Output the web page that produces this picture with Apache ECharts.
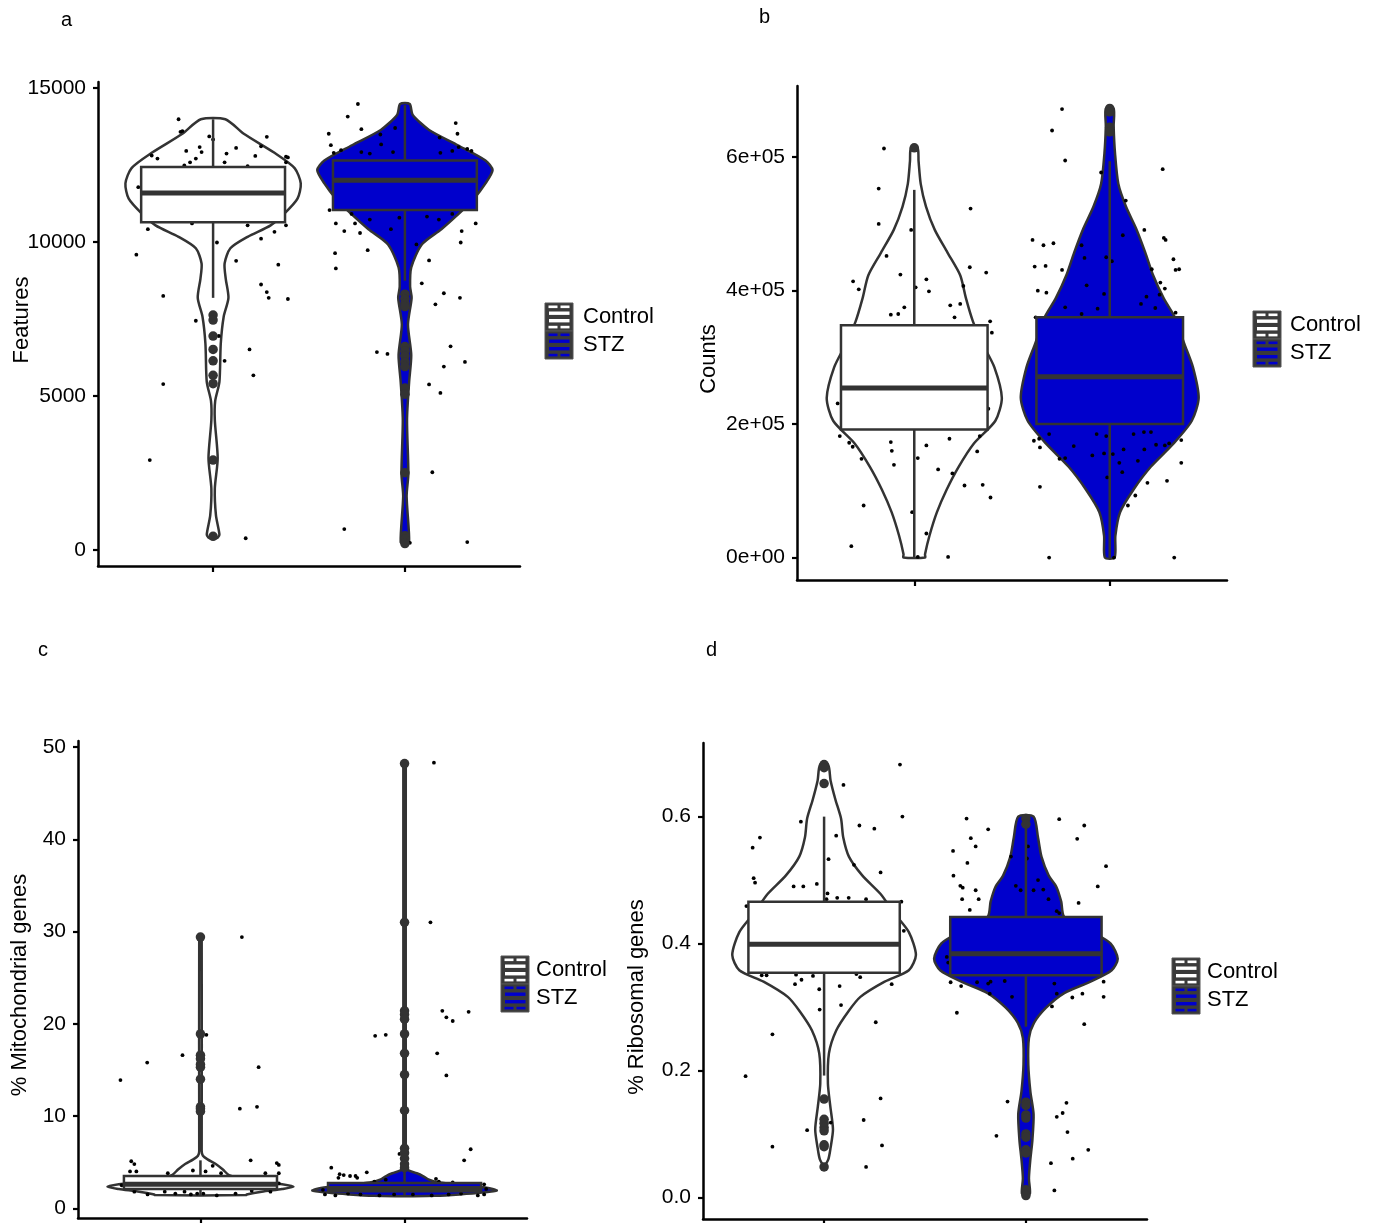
<!DOCTYPE html>
<html><head><meta charset="utf-8">
<script src="https://cdn.jsdelivr.net/npm/echarts@6/dist/echarts.min.js"></script>
<style>html,body{margin:0;padding:0;background:#fff}#c{width:1377px;height:1223px}</style>
</head><body><div id="c"></div>
<script>
const GROUPS = ['Control', 'STZ'];

// ---------- Panel a : Features ----------
const A_TICKS = [0, 5000, 10000, 15000];
const A_TICK_LABELS = ['0', '5000', '10000', '15000'];
const A_CTRL_VIOLIN = [[13983,0.064],[13512,0.16],[12893,0.32],[12397,0.425],[11901,0.457],[11405,0.44],[10909,0.37],[10537,0.30],[10165,0.18],[9793,0.09],[9298,0.06],[8802,0.066],[8182,0.08],[7562,0.055],[6694,0.04],[5455,0.033],[4835,0.011],[4215,0.009],[2975,0.024],[1983,0.009],[1116,0.015],[496,0.033],[400,0.025],[347,0]];
const A_STZ_VIOLIN = [[14479,0.025],[14132,0.04],[13636,0.126],[13140,0.276],[12645,0.42],[12335,0.457],[11901,0.42],[11405,0.36],[10909,0.28],[10413,0.19],[9917,0.088],[9174,0.033],[8554,0.027],[8182,0.035],[7314,0.016],[6322,0.033],[5455,0.022],[4215,0.011],[2479,0.018],[1736,0.009],[248,0.022],[186,0]];
const A_CTRL_BOX = [8182, 10636, 11591, 12434, 13983];
const A_STZ_BOX = [8740, 11033, 12000, 12645, 14442];
const A_CTRL_OUT = [7624, 7459, 6942, 6508, 6136, 5665, 5393, 2913, 434];
const A_STZ_OUT = [8300, 8150, 8000, 7900, 6600, 6450, 6300, 6100, 5950, 5250, 5050, 2500, 450, 350, 200];
const A_CTRL_JITTER = [[-0.18,13984],[-0.17,13575],[-0.16,13600],[-0.02,13426],[0.00,13327],[0.28,13414],[-0.07,13079],[-0.14,12955],[-0.06,12918],[0.12,13054],[0.25,13104],[-0.32,12806],[-0.29,12707],[-0.09,12707],[0.07,12868],[0.22,12794],[0.38,12769],[0.39,12744],[-0.12,12583],[-0.15,12484],[0.06,12583],[0.18,12459],[0.38,12583],[-0.39,11777],[-0.34,10413],[-0.11,10600],[0.18,10537],[0.38,10537],[0.02,9980],[0.25,10104],[0.32,10327],[0.12,9385],[-0.40,9583],[0.34,9261],[-0.26,8244],[0.25,8616],[0.28,8368],[0.29,8182],[0.39,8145],[-0.09,7438],[0.03,6942],[0.19,6508],[0.06,6136],[0.21,5665],[-0.26,5380],[-0.33,2913],[0.17,372]];
const A_STZ_JITTER = [[-0.245,14479],[-0.298,14070],[-0.397,13513],[-0.227,13661],[-0.128,13488],[-0.051,13699],[0.265,13860],[0.274,13513],[-0.386,13141],[-0.124,13166],[0.181,13389],[0.280,13079],[0.325,13017],[-0.371,12893],[-0.333,12980],[-0.227,12918],[-0.183,12868],[-0.062,12918],[0.185,12893],[0.247,12955],[0.347,12955],[-0.393,11033],[-0.360,10600],[-0.278,10909],[-0.260,10600],[-0.183,10724],[-0.073,10413],[-0.029,10786],[0.115,10823],[0.177,10724],[0.247,10909],[0.369,10600],[0.296,10351],[-0.316,10351],[-0.234,10289],[0.060,9918],[0.291,9980],[-0.194,9732],[-0.364,9633],[0.126,9397],[-0.360,9137],[0.088,8653],[0.203,8331],[0.287,8182],[0.159,7971],[0.238,6608],[-0.146,6422],[-0.091,6360],[0.203,5951],[0.313,6099],[0.126,5368],[0.185,5095],[0.143,2517],[-0.316,669],[0.325,248],[0.026,223]];

// ---------- Panel b : Counts ----------
const B_TICKS = [0, 200000, 400000, 600000];
const B_TICK_LABELS = ['0e+00', '2e+05', '4e+05', '6e+05'];
const B_CTRL_VIOLIN = [[614000,0.017],[594000,0.022],[560000,0.033],[526000,0.06],[491000,0.105],[457000,0.17],[423000,0.235],[388000,0.265],[354000,0.30],[320000,0.35],[285000,0.41],[239000,0.448],[205000,0.415],[171000,0.305],[136000,0.227],[102000,0.166],[68000,0.116],[33000,0.078],[5000,0.055],[0,0.055]];
const B_STZ_VIOLIN = [[673000,0.02],[646000,0.02],[606000,0.027],[560000,0.044],[526000,0.083],[491000,0.138],[457000,0.182],[423000,0.222],[388000,0.277],[360000,0.333],[320000,0.382],[285000,0.426],[239000,0.455],[205000,0.42],[171000,0.327],[136000,0.21],[102000,0.122],[68000,0.053],[33000,0.029],[0,0.025]];
const B_CTRL_BOX = [0, 192000, 254000, 348000, 551000];
const B_STZ_BOX = [0, 200000, 271000, 360000, 594000];
const B_CTRL_OUT = [614000];
const B_STZ_OUT = [673000, 668000, 645000, 638000];
const B_CTRL_JITTER = [[-0.155,613000],[-0.182,553000],[-0.182,500000],[0.288,523000],[-0.016,491000],[-0.142,452000],[0.284,435000],[0.368,427000],[-0.071,424000],[-0.313,414000],[0.062,417000],[-0.284,402000],[0.007,405000],[0.075,399000],[0.251,407000],[-0.051,375000],[0.184,378000],[0.235,380000],[-0.120,364000],[-0.082,365000],[0.206,360000],[0.388,354000],[0.397,337000],[-0.392,231000],[0.379,223000],[-0.381,182000],[-0.333,172000],[-0.315,166000],[-0.120,173000],[-0.115,160000],[0.062,168000],[0.180,178000],[0.335,182000],[0.322,159000],[-0.270,148000],[0.018,149000],[-0.104,139000],[0.122,132000],[0.195,126000],[0.257,108000],[0.350,109000],[0.390,90000],[-0.259,78000],[-0.011,68000],[0.062,36000],[-0.322,17000],[0.018,1000],[0.173,1000]];
const B_STZ_JITTER = [[-0.244,672000],[-0.295,640000],[-0.228,595000],[-0.044,577000],[0.271,582000],[0.082,535000],[0.067,483000],[0.177,491000],[-0.395,476000],[-0.339,468000],[-0.288,471000],[0.277,479000],[0.286,476000],[-0.144,468000],[-0.129,449000],[-0.018,450000],[0.011,444000],[-0.384,436000],[-0.328,437000],[-0.244,431000],[0.215,432000],[0.326,447000],[0.337,431000],[0.355,432000],[-0.118,408000],[-0.368,400000],[-0.324,397000],[-0.029,395000],[0.259,412000],[0.282,403000],[0.255,394000],[0.188,391000],[0.160,380000],[0.233,374000],[-0.228,375000],[-0.062,373000],[-0.144,365000],[-0.379,360000],[0.337,367000],[-0.310,185000],[-0.361,178000],[-0.388,175000],[-0.357,165000],[-0.067,185000],[-0.018,182000],[0.122,185000],[0.175,188000],[0.211,188000],[0.304,171000],[0.282,168000],[0.366,176000],[0.237,169000],[-0.184,167000],[-0.257,148000],[-0.228,149000],[-0.089,153000],[-0.029,156000],[0.071,162000],[0.177,162000],[0.016,155000],[0.049,142000],[0.144,145000],[0.366,142000],[0.064,128000],[-0.013,120000],[-0.357,106000],[0.193,112000],[0.293,115000],[0.131,93000],[0.093,78000],[-0.310,0],[0.022,0],[0.330,0]];

// ---------- Panel c : % Mitochondrial genes ----------
const C_TICKS = [0, 10, 20, 30, 40, 50];
const C_TICK_LABELS = ['0', '10', '20', '30', '40', '50'];
const C_CTRL_VIOLIN = [[29.4,0.006],[6.2,0.006],[5.7,0.012],[5.3,0.035],[4.8,0.075],[4.2,0.11],[3.6,0.14],[3.0,0.25],[2.6,0.40],[2.33,0.456],[2.1,0.40],[1.8,0.30],[1.5,0.226],[1.45,0.226],[1.4,0]];
const C_STZ_VIOLIN = [[48.2,0.006],[4.4,0.006],[4.1,0.02],[3.8,0.06],[3.5,0.09],[3.1,0.12],[2.8,0.17],[2.5,0.30],[2.2,0.41],[1.92,0.452],[1.7,0.38],[1.5,0.27],[1.35,0.15],[1.3,0]];
const C_CTRL_BOX = [1.4, 2.1, 2.6, 3.5, 5.2];
const C_STZ_BOX = [1.3, 1.85, 2.15, 2.75, 4.3];
const C_CTRL_OUT = [29.4, 18.9, 16.6, 16.2, 15.6, 15.3, 14.0, 11.0, 10.8, 10.5];
const C_STZ_OUT = [48.2, 31.0, 21.4, 21.0, 20.5, 18.9, 16.8, 14.5, 10.6, 6.5, 6.0, 5.4, 4.8, 4.4];
const C_CTRL_JITTER = [[-0.392,13.9],[-0.261,15.8],[-0.088,16.6],[0.029,18.8],[0.203,29.4],[0.285,15.3],[0.193,10.8],[0.277,11.0],[0.246,5.2],[-0.339,5.1],[-0.324,4.8],[0.374,4.9],[0.384,4.7],[-0.345,4.0],[-0.314,4.0],[-0.160,3.8],[-0.037,4.1],[0.025,4.0],[0.060,4.6],[0.101,3.8],[0.318,3.8],[0.384,3.8],[-0.386,2.5],[-0.324,1.8],[-0.259,1.5],[-0.175,1.8],[-0.123,1.6],[-0.078,1.8],[-0.047,1.5],[-0.016,1.6],[0.014,1.6],[0.080,1.4],[0.172,1.6],[0.251,1.9],[0.343,1.8],[0.384,2.7]];
const C_STZ_JITTER = [[0.144,48.3],[0.127,31.0],[-0.144,18.7],[-0.092,18.8],[0.185,21.4],[0.205,20.7],[0.236,20.3],[0.314,21.3],[0.160,16.8],[0.205,14.4],[0.324,6.4],[0.292,5.2],[-0.025,5.9],[-0.359,4.4],[-0.185,3.9],[-0.318,3.7],[-0.298,3.6],[-0.267,3.5],[-0.240,3.5],[-0.232,3.3],[-0.324,3.3],[-0.148,2.9],[-0.092,3.1],[0.154,3.2],[0.168,2.9],[0.236,2.8],[0.390,2.6],[0.400,2.1],[-0.400,2.0],[-0.390,1.5],[-0.339,1.4],[-0.277,1.6],[-0.216,1.5],[-0.123,1.4],[-0.051,1.5],[0.041,1.5],[0.133,1.4],[0.216,1.5],[0.277,1.6],[0.359,1.4],[0.390,1.5]];

// ---------- Panel d : % Ribosomal genes ----------
const D_TICKS = [0, 0.2, 0.4, 0.6];
const D_TICK_LABELS = ['0.0', '0.2', '0.4', '0.6'];
const D_CTRL_VIOLIN = [[0.682,0.02],[0.657,0.032],[0.627,0.056],[0.597,0.084],[0.567,0.095],[0.537,0.123],[0.507,0.19],[0.478,0.28],[0.448,0.347],[0.418,0.42],[0.382,0.455],[0.358,0.42],[0.340,0.30],[0.316,0.18],[0.293,0.12],[0.263,0.06],[0.227,0.024],[0.179,0.019],[0.143,0.031],[0.107,0.044],[0.078,0.032],[0.060,0.021],[0.048,0]];
const D_STZ_VIOLIN = [[0.600,0.038],[0.567,0.06],[0.537,0.077],[0.507,0.113],[0.490,0.15],[0.466,0.175],[0.442,0.19],[0.418,0.33],[0.400,0.42],[0.376,0.455],[0.358,0.425],[0.340,0.32],[0.322,0.19],[0.299,0.10],[0.275,0.04],[0.251,0.015],[0.209,0.012],[0.167,0.022],[0.131,0.038],[0.090,0.032],[0.060,0.022],[0.030,0.015],[0.006,0.02],[0.0,0]];
const D_CTRL_BOX = [0.192, 0.354, 0.399, 0.466, 0.600];
const D_STZ_BOX = [0.269, 0.350, 0.384, 0.442, 0.597];
const D_CTRL_OUT = [0.682, 0.677, 0.652, 0.155, 0.123, 0.117, 0.110, 0.105, 0.083, 0.080, 0.048];
const D_STZ_OUT = [0.597, 0.588, 0.150, 0.145, 0.130, 0.125, 0.100, 0.095, 0.075, 0.070, 0.012, 0.003];
const D_CTRL_JITTER = [[0.376,0.682],[0.096,0.650],[0.388,0.600],[-0.115,0.592],[0.249,0.581],[0.175,0.586],[-0.318,0.567],[0.060,0.570],[-0.354,0.551],[0.022,0.533],[0.148,0.524],[0.280,0.512],[-0.349,0.503],[-0.342,0.496],[-0.151,0.490],[-0.103,0.490],[-0.036,0.494],[0.017,0.479],[0.012,0.470],[0.065,0.472],[0.122,0.472],[0.208,0.470],[0.383,0.466],[-0.385,0.459],[0.395,0.420],[-0.309,0.350],[-0.285,0.350],[-0.139,0.351],[-0.112,0.343],[-0.144,0.336],[-0.055,0.349],[0.160,0.352],[0.179,0.347],[0.077,0.333],[0.335,0.336],[-0.024,0.328],[0.084,0.303],[-0.022,0.296],[0.256,0.276],[-0.256,0.257],[-0.389,0.191],[0.280,0.156],[0.196,0.122],[0.033,0.118],[-0.084,0.106],[-0.256,0.080],[0.287,0.082],[0.208,0.048]];
const D_STZ_JITTER = [[0.165,0.596],[-0.294,0.597],[-0.187,0.580],[0.289,0.586],[-0.273,0.566],[-0.249,0.553],[0.254,0.565],[-0.361,0.546],[-0.290,0.527],[0.010,0.553],[0.005,0.534],[-0.074,0.537],[0.397,0.522],[-0.359,0.507],[0.060,0.500],[-0.325,0.491],[-0.313,0.488],[-0.249,0.484],[-0.050,0.491],[-0.026,0.484],[0.038,0.484],[0.086,0.485],[0.356,0.490],[-0.316,0.470],[-0.234,0.470],[-0.278,0.453],[0.112,0.470],[0.153,0.451],[0.165,0.448],[0.261,0.464],[-0.392,0.379],[-0.385,0.370],[-0.373,0.339],[-0.321,0.333],[-0.242,0.339],[-0.187,0.337],[-0.175,0.340],[-0.105,0.341],[-0.069,0.316],[-0.179,0.321],[0.141,0.337],[0.153,0.321],[0.129,0.301],[0.230,0.315],[0.280,0.321],[0.385,0.340],[0.385,0.316],[-0.342,0.291],[0.289,0.273],[-0.091,0.151],[0.201,0.149],[0.153,0.127],[0.182,0.133],[-0.146,0.097],[0.206,0.103],[0.309,0.075],[0.232,0.061],[0.124,0.054],[0.141,0.011]];

// ---------- layout & style (not data) ----------
const FONT = "'Liberation Sans', Arial, Helvetica, sans-serif";
const FILLS = ['#ffffff', '#0000cc'];
const EDGE = '#333333';
const BOX_HALF = 0.375;
const LAYOUT = [
  {left: 98, top: 82, width: 422, height: 484, ymin: -529, ymax: 15194, letter: 'a', lx: 61, ly: 29, title: 'Features', tx: 22, ty: 320, keyX: 545, keyY: 303, textX: 583},
  {left: 797, top: 86, width: 430, height: 494, ymin: -33650, ymax: 706650, letter: 'b', lx: 759, ly: 26, title: 'Counts', tx: 709, ty: 359, keyX: 1253, keyY: 311, textX: 1290},
  {left: 78, top: 741, width: 449, height: 477, ymin: -1.05, ymax: 50.65, letter: 'c', lx: 38, ly: 659, title: '% Mitochondrial genes', tx: 20, ty: 985, keyX: 501, keyY: 956, textX: 536},
  {left: 703, top: 743, width: 444, height: 476, ymin: -0.034, ymax: 0.716, letter: 'd', lx: 706, ly: 659, title: '% Ribosomal genes', tx: 637, ty: 997, keyX: 1172, keyY: 958, textX: 1207}
];
const PANELS = [
  {ticks: A_TICKS, labels: A_TICK_LABELS, violins: [A_CTRL_VIOLIN, A_STZ_VIOLIN], boxes: [A_CTRL_BOX, A_STZ_BOX], jitter: [A_CTRL_JITTER, A_STZ_JITTER], outliers: [A_CTRL_OUT, A_STZ_OUT]},
  {ticks: B_TICKS, labels: B_TICK_LABELS, violins: [B_CTRL_VIOLIN, B_STZ_VIOLIN], boxes: [B_CTRL_BOX, B_STZ_BOX], jitter: [B_CTRL_JITTER, B_STZ_JITTER], outliers: [B_CTRL_OUT, B_STZ_OUT]},
  {ticks: C_TICKS, labels: C_TICK_LABELS, violins: [C_CTRL_VIOLIN, C_STZ_VIOLIN], boxes: [C_CTRL_BOX, C_STZ_BOX], jitter: [C_CTRL_JITTER, C_STZ_JITTER], outliers: [C_CTRL_OUT, C_STZ_OUT]},
  {ticks: D_TICKS, labels: D_TICK_LABELS, violins: [D_CTRL_VIOLIN, D_STZ_VIOLIN], boxes: [D_CTRL_BOX, D_STZ_BOX], jitter: [D_CTRL_JITTER, D_STZ_JITTER], outliers: [D_CTRL_OUT, D_STZ_OUT]}
];

const grid = [], xAxis = [], yAxis = [], series = [], graphic = [];

function violinRender(prof, center, fill) {
  return function (params, api) {
    const pts = [];
    for (let i = 0; i < prof.length; i++) pts.push(api.coord([center - prof[i][1], prof[i][0]]));
    for (let i = prof.length - 1; i >= 0; i--) pts.push(api.coord([center + prof[i][1], prof[i][0]]));
    return {type: 'polygon', shape: {points: pts, smooth: 0.25}, style: {fill: fill, stroke: EDGE, lineWidth: 2.5}};
  };
}
function boxRender(stats, center, fill) {
  return function (params, api) {
    const lo = stats[0], q1 = stats[1], med = stats[2], q3 = stats[3], hi = stats[4];
    const pHi = api.coord([center, hi]), pQ3 = api.coord([center, q3]);
    const pQ1 = api.coord([center, q1]), pLo = api.coord([center, lo]);
    const tl = api.coord([center - BOX_HALF, q3]), br = api.coord([center + BOX_HALF, q1]);
    const mL = api.coord([center - BOX_HALF, med]), mR = api.coord([center + BOX_HALF, med]);
    const ls = {stroke: EDGE, lineWidth: 2.5};
    return {type: 'group', children: [
      {type: 'line', shape: {x1: pHi[0], y1: pHi[1], x2: pQ3[0], y2: pQ3[1]}, style: ls},
      {type: 'line', shape: {x1: pQ1[0], y1: pQ1[1], x2: pLo[0], y2: pLo[1]}, style: ls},
      {type: 'rect', shape: {x: tl[0], y: tl[1], width: br[0] - tl[0], height: br[1] - tl[1]}, style: {fill: fill, stroke: EDGE, lineWidth: 2.5}},
      {type: 'line', shape: {x1: mL[0], y1: mL[1], x2: mR[0], y2: mR[1]}, style: {stroke: EDGE, lineWidth: 5}}
    ]};
  };
}

LAYOUT.forEach(function (L, p) {
  const P = PANELS[p];
  grid.push({left: L.left, top: L.top, width: L.width, height: L.height, containLabel: false});
  xAxis.push({
    type: 'value', gridIndex: p, min: 0.4, max: 2.6,
    axisLine: {show: true, onZero: false, lineStyle: {color: '#000', width: 2.5}},
    axisTick: {show: true, customValues: [1, 2], length: 6, lineStyle: {color: '#000', width: 2.2}},
    axisLabel: {show: false}, splitLine: {show: false}
  });
  yAxis.push({
    type: 'value', gridIndex: p, min: L.ymin, max: L.ymax,
    axisLine: {show: true, onZero: false, lineStyle: {color: '#000', width: 2.5}},
    axisTick: {show: true, customValues: P.ticks, length: 5, lineStyle: {color: '#000', width: 2.2}},
    axisLabel: {show: true, customValues: P.ticks, margin: 12, color: '#000', fontSize: 21, fontFamily: FONT,
      formatter: function (v) { const i = P.ticks.indexOf(v); return i >= 0 ? P.labels[i] : ''; }},
    splitLine: {show: false}
  });
  [0, 1].forEach(function (g) {
    const center = g + 1;
    series.push({type: 'custom', name: GROUPS[g], xAxisIndex: p, yAxisIndex: p, z: 1, silent: true,
      data: [[center, P.boxes[g][2]]], renderItem: violinRender(P.violins[g], center, FILLS[g])});
    series.push({type: 'scatter', name: GROUPS[g] + ' cells', xAxisIndex: p, yAxisIndex: p, z: 2, silent: true,
      symbolSize: 3.8, itemStyle: {color: '#000', opacity: 1},
      data: P.jitter[g].map(function (d) { return [center + d[0], d[1]]; })});
    series.push({type: 'custom', name: GROUPS[g] + ' box', xAxisIndex: p, yAxisIndex: p, z: 3, silent: true,
      data: [[center, P.boxes[g][2]]], renderItem: boxRender(P.boxes[g], center, FILLS[g])});
    series.push({type: 'scatter', name: GROUPS[g] + ' outliers', xAxisIndex: p, yAxisIndex: p, z: 4, silent: true,
      symbolSize: 9.5, itemStyle: {color: EDGE, opacity: 1},
      data: P.outliers[g].map(function (v) { return [center, v]; })});
  });

  graphic.push({type: 'text', left: L.lx, top: L.ly - 19, style: {text: L.letter, font: '20px ' + FONT, fill: '#000'}});
  graphic.push({type: 'text', x: L.tx, y: L.ty, rotation: Math.PI / 2,
    style: {text: L.title, font: '22px ' + FONT, fill: '#000', align: 'center', verticalAlign: 'middle'}});
  const keys = [];
  [0, 1].forEach(function (g) {
    const y0 = g * 28;
    const c = FILLS[g];
    keys.push({type: 'rect', shape: {x: 0, y: y0, width: 28, height: 28}, style: {fill: '#3a3a3a', stroke: '#555', lineWidth: 1}});
    keys.push({type: 'rect', shape: {x: 3.5, y: y0 + 2.5, width: 9, height: 2.6}, style: {fill: c}});
    keys.push({type: 'rect', shape: {x: 15.5, y: y0 + 2.5, width: 9, height: 2.6}, style: {fill: c}});
    keys.push({type: 'rect', shape: {x: 4, y: y0 + 8.5, width: 20.5, height: 3.4}, style: {fill: c}});
    keys.push({type: 'rect', shape: {x: 4, y: y0 + 16, width: 20.5, height: 3.4}, style: {fill: c}});
    keys.push({type: 'rect', shape: {x: 3.5, y: y0 + 22.8, width: 9, height: 2.6}, style: {fill: c}});
    keys.push({type: 'rect', shape: {x: 15.5, y: y0 + 22.8, width: 9, height: 2.6}, style: {fill: c}});
    keys.push({type: 'text', x: L.textX - L.keyX, y: y0 + 14,
      style: {text: GROUPS[g], font: '22px ' + FONT, fill: '#000', align: 'left', verticalAlign: 'middle'}});
  });
  graphic.push({type: 'group', x: L.keyX, y: L.keyY, children: keys});
});

const chart = echarts.init(document.getElementById('c'), null, {renderer: 'canvas'});
chart.setOption({
  animation: false,
  backgroundColor: '#ffffff',
  textStyle: {fontFamily: FONT},
  grid: grid, xAxis: xAxis, yAxis: yAxis, series: series, graphic: graphic
});
</script></body></html>
